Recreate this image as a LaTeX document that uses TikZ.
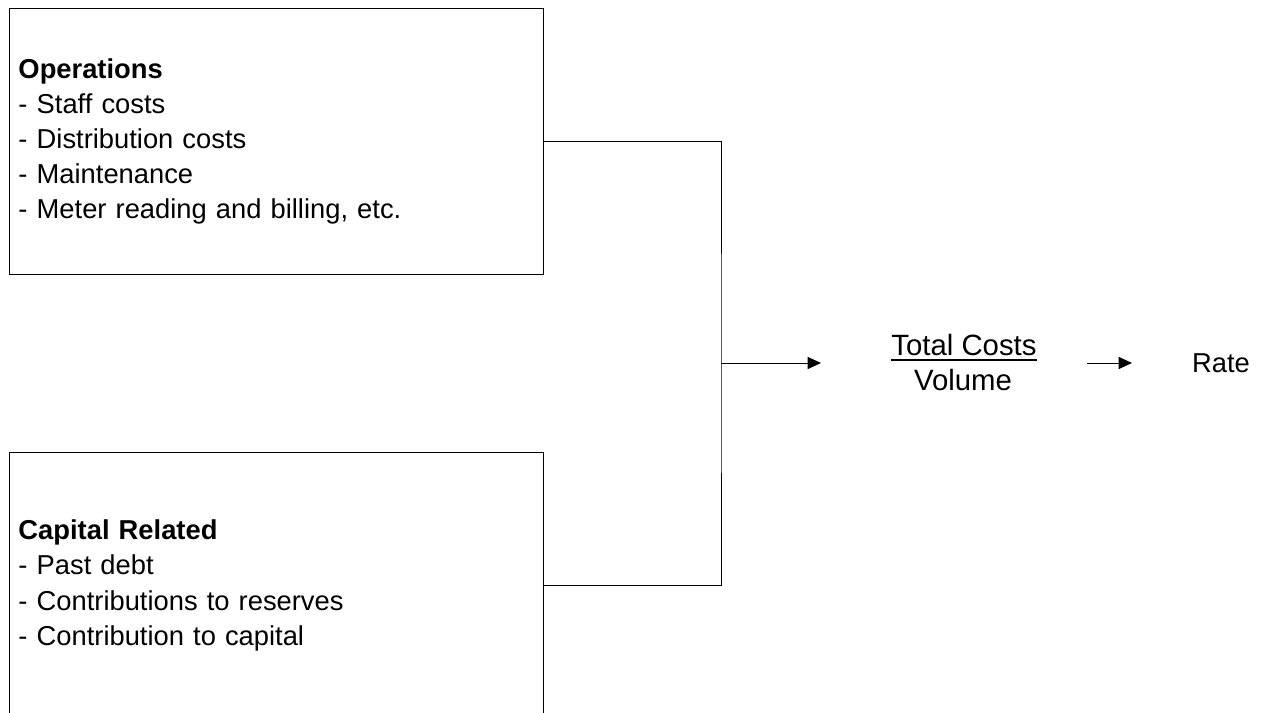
\documentclass[tikz,border=0pt]{standalone}
\usepackage{fontspec}
\setmainfont{Liberation Sans}
\usetikzlibrary{arrows.meta}
\begin{document}
\begin{tikzpicture}[x=0.75pt,y=-0.75pt,
  costbox/.style={draw, line width=0.75pt, rectangle, anchor=north west,
    minimum width=400.5pt, minimum height=199.5pt, text width=387pt,
    inner xsep=6.75pt, inner ysep=0pt, align=left,
    font=\fontsize{20.5}{26.4}\selectfont},
  lbl/.style={font=\fontsize{20.5}{26.4}\selectfont, inner sep=0pt, anchor=base},
  frac/.style={lbl, font=\fontsize{22}{26.4}\selectfont},
  link/.style={line width=0.75pt},
  flow/.style={line width=0.75pt, -{Triangle[length=10pt,width=9pt]}}]
\useasboundingbox (0,0) rectangle (1264,713);
\node[costbox] (ops) at (9,8) {\textbf{Operations}\\- Staff costs\\- Distribution costs\\- Maintenance\\- Meter reading and billing, etc.};
\node[costbox] (cap) at (9,452) {\textbf{Capital Related}\\- Past debt\\- Contributions to reserves\\- Contribution to capital};
\coordinate (j) at (721,363);
\draw[link] (ops.east) -| (j) |- (cap.east);
\node[frac] (tc) at (964,355) {Total Costs};
\node[frac] (vol) at (963,390) {Volume};
\draw[line width=1.5pt] ([yshift=-4pt]tc.base west) -- ([yshift=-4pt]tc.base east);
\node[lbl] (rate) at (1221,372) {Rate};
\coordinate (a1) at (821,363);
\coordinate (a2s) at (1087,363);
\coordinate (a2e) at (1132,363);
\draw[flow] (j) -- (a1);
\draw[flow] (a2s) -- (a2e);
\end{tikzpicture}
\end{document}
